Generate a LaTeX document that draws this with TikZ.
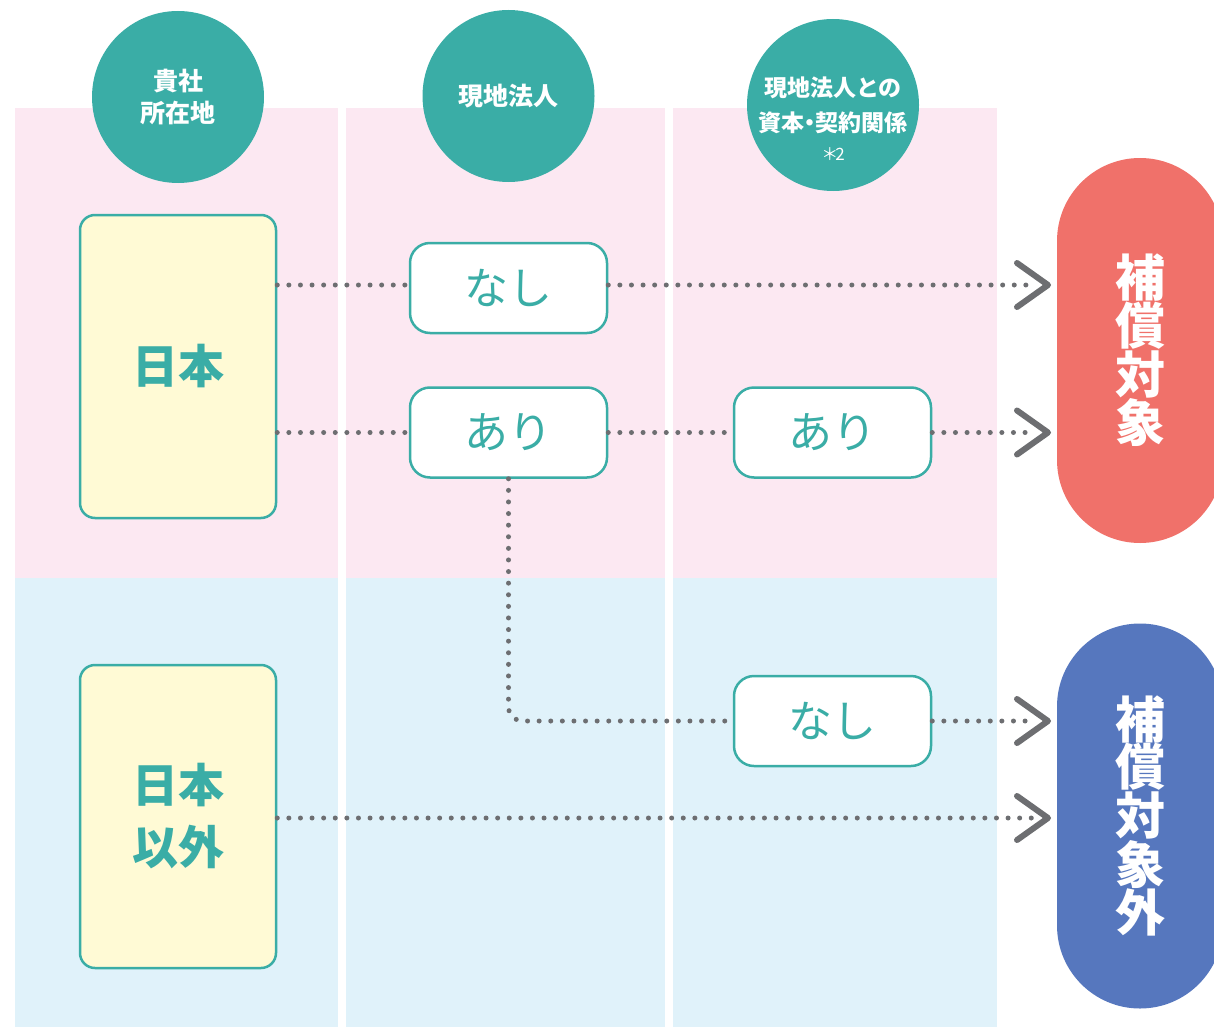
\documentclass[tikz,border=0pt]{standalone}
\usepackage{fontspec}
\setmainfont{Noto Sans CJK JP}
\usetikzlibrary{calc}
\definecolor{teal1}{HTML}{3AADA6}
\definecolor{redp}{HTML}{F0716A}
\definecolor{bluep}{HTML}{5677BE}
\definecolor{pinkbg}{HTML}{FCE8F2}
\definecolor{bluebg}{HTML}{E0F2FA}
\definecolor{yel}{HTML}{FFFAD5}
\definecolor{grayd}{HTML}{6D6E71}
\tikzset{
  head/.style={circle, fill=teal1, minimum size=172pt, inner sep=0pt, text=white, font=\bfseries\fontsize{25}{32}\selectfont, align=center},
  headtext/.style={inner sep=0pt, text=white, font=\bfseries\fontsize{23}{35}\selectfont, align=center},
  ybox/.style={rectangle, rounded corners=15pt, draw=teal1, line width=2.5pt, fill=yel, minimum width=196pt, minimum height=303pt, text=teal1, font=\bfseries\fontsize{46}{62}\selectfont, align=center},
  wbox/.style={rectangle, rounded corners=20pt, draw=teal1, line width=2.5pt, fill=white, minimum width=197pt, minimum height=90pt, text=teal1, font=\fontsize{44}{50}\selectfont},
  pill/.style={rectangle, rounded corners=83pt, minimum width=166pt, minimum height=385pt, text=white, font=\bfseries\fontsize{50}{47.5}\selectfont, align=center, inner sep=0pt},
  dotline/.style={draw=grayd, line width=5pt, line cap=round, dash pattern=on 0pt off 11.6pt},
  chev/.style={draw=grayd, line width=6pt, line cap=round, line join=round},
}
\begin{document}
\begin{tikzpicture}[x=1pt,y=-1pt]
\useasboundingbox (0,0) rectangle (1214,1027);
% column backgrounds
\fill[pinkbg] (15,108) rectangle (338,578);
\fill[pinkbg] (346,108) rectangle (665,578);
\fill[pinkbg] (673,108) rectangle (997,578);
\fill[bluebg] (15,578) rectangle (338,1027);
\fill[bluebg] (346,578) rectangle (665,1027);
\fill[bluebg] (673,578) rectangle (997,1027);
% headers
\node[head] (h1) at (178,97) {貴社\\所在地};
\node[head] (h2) at (508.5,96) {現地法人};
\node[head] (h3) at (833,105) {};
\node[headtext] (h3t) at (833,119) {現地法人との\\資本\kern-6pt・\kern-6pt契約関係\\[-6pt]{\mdseries\fontsize{17}{22}\selectfont ＊\kern-3pt 2}};
% location boxes
\node[ybox] (jp) at (178,366.5) {日本};
\node[ybox] (njp) at (178,816.5) {日本\\以外};
% relation boxes
\node[wbox] (n1) at (508.5,288) {なし};
\node[wbox] (a1) at (508.5,432.5) {あり};
\node[wbox] (a2) at (832.5,432.5) {あり};
\node[wbox] (n2) at (832.5,721) {なし};
% result pills
\node[pill, fill=redp] (ok) at (1140,350.5) {補\\償\\対\\象};
\node[pill, fill=bluep] (ng) at (1140,816) {補\\償\\対\\象\\外};
% arrow end coordinates
\coordinate (e1) at (1032,285);
\coordinate (e2) at (1032,432.5);
\coordinate (e3) at (1032,721);
\coordinate (e4) at (1032,818);
\coordinate (t1) at (1048,285);
\coordinate (t2) at (1048,432.5);
\coordinate (t3) at (1048,721);
\coordinate (t4) at (1048,818);
% connectors
\draw[dotline] (jp.east |- 0,285) -- (n1.west |- 0,285);
\draw[dotline] (n1.east |- 0,285) -- (e1);
\draw[dotline] (jp.east |- a1.west) -- (a1.west);
\draw[dotline] (a1.east) -- (a2.west);
\draw[dotline] (a2.east) -- (e2);
\draw[dotline, rounded corners=14pt] (a1.south) |- (n2.west);
\draw[dotline] (n2.east) -- (e3);
\draw[dotline] (njp.east |- 0,818) -- (e4);
% chevrons
\foreach \t in {t1,t2,t3,t4}{
  \draw[chev] (\t) ++(-31,-22) -- (\t) -- ++(-31,22);
}
\end{tikzpicture}
\end{document}
